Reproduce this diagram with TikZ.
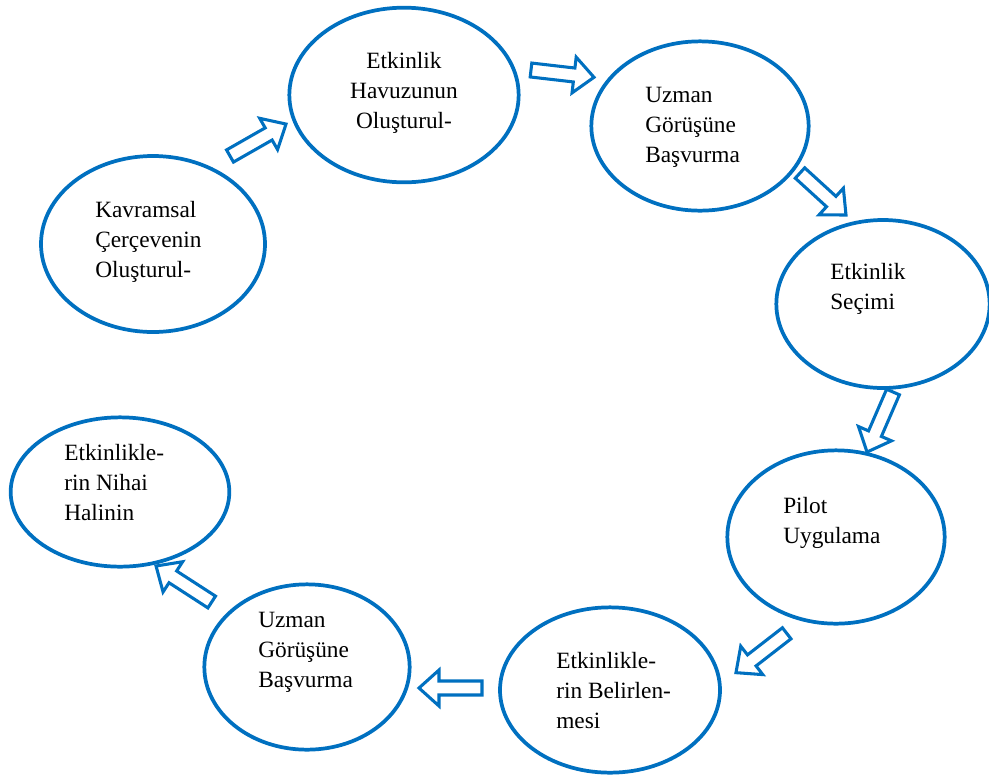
\documentclass[tikz,border=0pt]{standalone}
\usepackage{fontspec}
\setmainfont{Liberation Serif}
\usetikzlibrary{shapes.geometric}
\definecolor{stageblue}{RGB}{0,112,192}
\tikzset{
  stage/.style={ellipse, draw=stageblue, line width=2.8pt, fill=white, inner sep=0pt},
  stagetext/.style={inner sep=0pt, align=left, anchor=west, font=\fontsize{17.5}{22.5}\selectfont},
  flowarrow/.style={draw=stageblue, line width=2.3pt, fill=white, line join=miter}
}
\begin{document}
\begin{tikzpicture}[x=0.75pt, y=-0.75pt]
    \useasboundingbox (0,0) rectangle (989,776);
    % stages
    \node[stage, minimum width=168pt, minimum height=132pt] (kavram) at (153,244) {};
    \node[stage, minimum width=172pt, minimum height=131pt] (havuz) at (404,95) {};
    \node[stage, minimum width=163pt, minimum height=127pt] (uzman1) at (700,126) {};
    \node[stage, minimum width=160pt, minimum height=126pt] (secim) at (883,304) {};
    \node[stage, minimum width=163pt, minimum height=130pt] (pilot) at (836,537) {};
    \node[stage, minimum width=165pt, minimum height=124pt] (belirle) at (610,690) {};
    \node[stage, minimum width=154pt, minimum height=124pt] (uzman2) at (307,667) {};
    \node[stage, minimum width=164pt, minimum height=112pt] (nihai) at (120,492) {};
    % texts
    \node[stagetext] (kavramtext) at (95,242) {Kavramsal\\Çerçevenin\\Oluşturul-};
    \node[stagetext, align=center, anchor=center] (havuztext) at (404,93) {Etkinlik\\Havuzunun\\Oluşturul-};
    \node[stagetext] (uzman1text) at (645,127) {Uzman\\Görüşüne\\Başvurma};
    \node[stagetext] (secimtext) at (830,289) {Etkinlik\\Seçimi};
    \node[stagetext] (pilottext) at (783,523) {Pilot\\Uygulama};
    \node[stagetext] (belirletext) at (556,691) {Etkinlikle-\\rin Belirlen-\\mesi};
    \node[stagetext] (uzman2text) at (258,652) {Uzman\\Görüşüne\\Başvurma};
    \node[stagetext] (nihaitext) at (64,483) {Etkinlikle-\\rin Nihai\\Halinin};
    % block arrows: tail x / tail y / angle / length
    \foreach \x/\y/\a/\l in {230/156/29.7/64.5, 531/70/-6.6/63.4, 800/173/-42.4/62.3,
      893/392/-113.4/65.4, 786.7/633.3/-142.2/64.2, 482/688/180/63, 211.7/602/147.1/66.3}
    \draw[flowarrow, shift={(\x,\y)}, rotate=\a] (0,-7) -- (\l-20,-7) -- (\l-20,-18)
      -- (\l,0) -- (\l-20,18) -- (\l-20,7) -- (0,7) -- cycle;
\end{tikzpicture}
\end{document}
